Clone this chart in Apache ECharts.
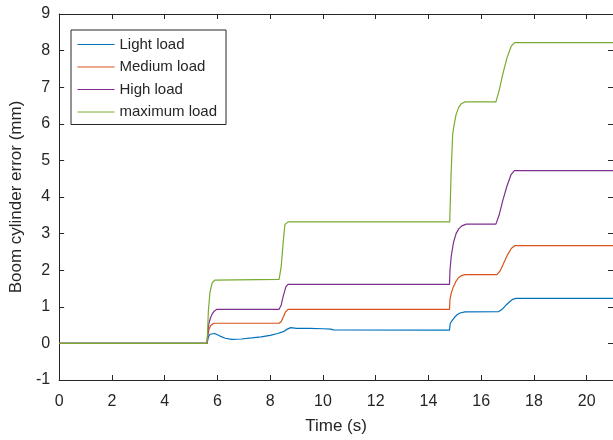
<!DOCTYPE html>
<html>
<head>
<meta charset="utf-8">
<script src="https://cdn.jsdelivr.net/npm/echarts@6/dist/echarts.min.js"></script>
<style>
	* { margin: 0; padding: 0; }
	body { background: #fff; }
</style>
</head>
<body>
<!-- container with fixed size for the chart -->
<div id="main" style="width: 613px;height: 440px;"></div>
<script>
	var seriesNames = ['Light load', 'Medium load', 'High load', 'maximum load'];
	var xTicks = [0, 2, 4, 6, 8, 10, 12, 14, 16, 18, 20];
	var yTicks = [-1, 0, 1, 2, 3, 4, 5, 6, 7, 8, 9];

	// Light load
	var lightT = [0, 5.61, 5.66, 5.72, 5.79, 5.9, 6.1, 6.3, 6.54, 6.9, 7.3, 7.66, 8.0, 8.29, 8.5, 8.65, 8.78, 9.0, 9.5, 10.0, 10.3, 10.4, 14.8, 14.83, 14.9, 15.0, 15.1, 15.2, 15.39, 16.67, 16.8, 16.95, 17.1, 17.22, 17.32, 21];
	var lightV = [0, 0, 0.18, 0.25, 0.29, 0.27, 0.2, 0.14, 0.11, 0.12, 0.15, 0.18, 0.22, 0.27, 0.32, 0.39, 0.43, 0.41, 0.41, 0.40, 0.39, 0.37, 0.36, 0.55, 0.62, 0.72, 0.79, 0.83, 0.86, 0.87, 0.93, 1.05, 1.15, 1.21, 1.23, 1.23];
	// Medium load
	var mediumT = [0, 5.61, 5.64, 5.68, 5.74, 5.8, 5.86, 8.34, 8.42, 8.5, 8.58, 8.68, 14.8, 14.82, 14.87, 14.95, 15.05, 15.15, 15.25, 15.39, 16.6, 16.72, 16.85, 17.0, 17.15, 17.28, 21];
	var mediumV = [0, 0, 0.22, 0.38, 0.48, 0.53, 0.55, 0.55, 0.6, 0.72, 0.86, 0.93, 0.93, 1.2, 1.38, 1.55, 1.7, 1.8, 1.85, 1.88, 1.88, 1.98, 2.18, 2.42, 2.6, 2.67, 2.67];
	// High load
	var highT = [0, 5.61, 5.64, 5.68, 5.74, 5.8, 5.88, 5.98, 8.34, 8.42, 8.5, 8.6, 8.68, 14.8, 14.82, 14.87, 14.95, 15.05, 15.15, 15.27, 15.44, 16.56, 16.68, 16.82, 16.98, 17.14, 17.26, 21];
	var highV = [0, 0, 0.35, 0.55, 0.7, 0.8, 0.88, 0.93, 0.93, 1.05, 1.3, 1.55, 1.61, 1.61, 2.0, 2.4, 2.75, 3.0, 3.13, 3.21, 3.26, 3.26, 3.5, 3.9, 4.3, 4.62, 4.72, 4.72];
	// maximum load
	var maxT = [0, 5.61, 5.66, 5.72, 5.8, 5.9, 5.97, 8.34, 8.42, 8.5, 8.56, 8.68, 14.81, 14.86, 14.92, 14.97, 15.05, 15.15, 15.25, 15.39, 16.56, 16.68, 16.82, 16.98, 17.14, 17.27, 21];
	var maxV = [0, 0, 0.9, 1.4, 1.65, 1.73, 1.75, 1.75, 2.1, 2.8, 3.25, 3.32, 3.32, 4.6, 5.7, 5.95, 6.25, 6.45, 6.55, 6.6, 6.6, 6.9, 7.35, 7.8, 8.12, 8.22, 8.22];

	var colors = ['#0072BD', '#D95319', '#7E2F8E', '#77AC30'];
	var font = 'Liberation Sans, Arial, sans-serif';

	function pairs(t, v) {
		return t.map(function (x, i) { return [x, v[i]]; });
	}

	var chart = echarts.init(document.getElementById('main'));
	// matlab style box: lines on all four sides, ticks pointing in
	var boxAxis = {
		axisLine: { show: true, onZero: false, lineStyle: { color: '#262626', width: 1 } },
		axisTick: { show: true, inside: true, length: 5, lineStyle: { color: '#262626' } },
		splitLine: { show: false }
	};
	var xBase = { type: 'value', min: 0, max: 21, interval: 2 };
	var yBase = { type: 'value', min: -1, max: 9, interval: 1 };

	chart.setOption({
		animation: false,
		color: colors,
		grid: { left: 55, top: 14, right: -4, bottom: 59 },
		legend: {
			orient: 'vertical',
			left: 71,
			top: 30,
			data: seriesNames,
			backgroundColor: '#fff',
			borderColor: '#262626',
			borderWidth: 1,
			padding: [7, 9, 5, 6],
			itemWidth: 37,
			itemHeight: 14,
			itemGap: 7.5,
			itemStyle: { opacity: 0 },
			lineStyle: { width: 1 },
			textStyle: { fontFamily: font, fontSize: 15, color: '#262626' }
		},
		xAxis: [
			Object.assign({}, xBase, boxAxis, {
				position: 'bottom',
				name: 'Time (s)',
				nameLocation: 'middle',
				nameGap: 38,
				nameTextStyle: { fontFamily: font, fontSize: 17, color: '#262626' },
				axisLabel: {
					fontFamily: font, fontSize: 16, color: '#262626', margin: 14,
					customValues: xTicks
				}
			}),
			Object.assign({}, xBase, boxAxis, {
				position: 'top',
				axisLabel: { show: false }
			})
		],
		yAxis: [
			Object.assign({}, yBase, boxAxis, {
				position: 'left',
				name: 'Boom cylinder error (mm)',
				nameLocation: 'middle',
				nameGap: 26,
				nameTextStyle: { fontFamily: font, fontSize: 17, color: '#262626' },
				axisLabel: { fontFamily: font, fontSize: 16, color: '#262626', margin: 9 }
			}),
			Object.assign({}, yBase, boxAxis, {
				position: 'right',
				axisLabel: { show: false }
			})
		],
		series: [
			{ name: seriesNames[0], type: 'line', symbol: 'none', lineStyle: { width: 1.2 }, data: pairs(lightT, lightV) },
			{ name: seriesNames[1], type: 'line', symbol: 'none', lineStyle: { width: 1.2 }, data: pairs(mediumT, mediumV) },
			{ name: seriesNames[2], type: 'line', symbol: 'none', lineStyle: { width: 1.2 }, data: pairs(highT, highV) },
			{ name: seriesNames[3], type: 'line', symbol: 'none', lineStyle: { width: 1.2 }, data: pairs(maxT, maxV) }
		]
	});
</script>
</body>
</html>
